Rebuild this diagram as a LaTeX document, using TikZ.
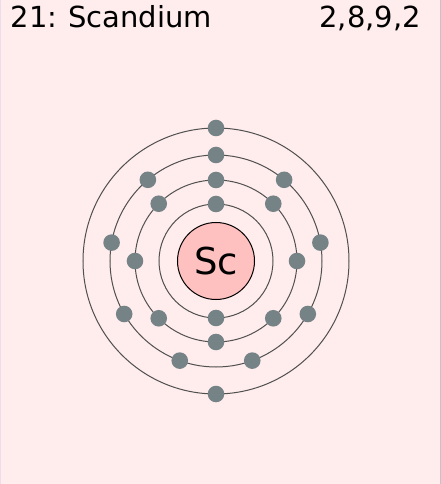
\documentclass[tikz,border=0pt]{standalone}
\usepackage{fontspec}
\setmainfont{DejaVu Sans}
\usetikzlibrary{calc}
\definecolor{BackClr}{RGB}{255,236,236}
\definecolor{NucleusClr}{RGB}{255,192,192}
\definecolor{ElectronClr}{RGB}{117,131,135}
\definecolor{ShellClr}{RGB}{80,80,80}
\definecolor{LeftEdgeClr}{RGB}{236,220,236}
\definecolor{RightEdgeClr}{RGB}{205,190,205}

\begin{document}
\begin{tikzpicture}[x=1pt,y=1pt]
\tikzset{shell/.style={draw=ShellClr,line width=1pt},
  electron/.style={circle,fill=ElectronClr,inner sep=0pt,minimum size=16.6pt}}

\fill[BackClr] (-216,-223) rectangle (225,261);
\useasboundingbox (-216,-223) rectangle (225,261);
\draw[LeftEdgeClr,line width=1.2pt] (-215.4,-223) -- (-215.4,261);
\draw[RightEdgeClr,line width=1.2pt] (224.4,-223) -- (224.4,261);

\coordinate (O) at (0,0);

\foreach \r in {57,81,106,133}
  \draw[shell] (O) circle (\r pt);

\node[circle,draw,line width=1pt,fill=NucleusClr,minimum size=77pt,inner sep=0pt,
  font=\fontsize{37}{37}\selectfont] (nucleus) at (O) {Sc};

% electrons, shell by shell
\foreach \a [count=\i] in {90,270}
  \node[electron] (k\i) at ($(O)+(\a:57pt)$) {};
\foreach \a [count=\i] in {0,45,...,315}
  \node[electron] (l\i) at ($(O)+(\a:81pt)$) {};
\foreach \a [count=\i] in {90,130,...,410}
  \node[electron] (m\i) at ($(O)+(\a:106pt)$) {};
\foreach \a [count=\i] in {90,270}
  \node[electron] (n\i) at ($(O)+(\a:133pt)$) {};

\node[anchor=base west,inner sep=0pt,font=\fontsize{29}{30}\selectfont]
  (name) at (-205.5,233.7) {21:\hspace{-1.5pt} Scandium};
\node[anchor=base east,inner sep=0pt,font=\fontsize{29}{30}\selectfont]
  (config) at (205,233.7) {2,8,9,2};

\end{tikzpicture}
\end{document}
